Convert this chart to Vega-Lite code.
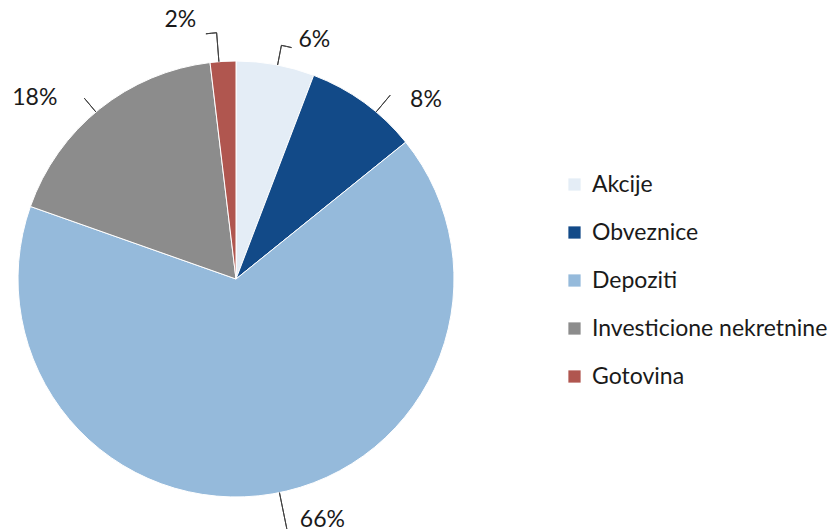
{
  "$schema": "https://vega.github.io/schema/vega-lite/v6.json",
  "width": 472,
  "height": 504,
  "autosize": {"type": "none"},
  "padding": {"left": 0, "top": 27, "right": 361, "bottom": 0},
  "background": "white",
  "data": {
    "values": [
      {"kategorija": "Akcije", "udio": 0.058, "i": 1},
      {"kategorija": "Obveznice", "udio": 0.084, "i": 2},
      {"kategorija": "Depoziti", "udio": 0.662, "i": 3},
      {"kategorija": "Investicione nekretnine", "udio": 0.177, "i": 4},
      {"kategorija": "Gotovina", "udio": 0.019, "i": 5}
    ]
  },
  "transform": [
    {"stack": "udio", "groupby": [], "sort": [{"field": "i", "order": "ascending"}], "as": ["s0", "s1"]}
  ],
  "resolve": {"scale": {"theta": "independent"}},
  "layer": [
    {
      "mark": {"type": "arc", "outerRadius": 218, "stroke": "white", "strokeWidth": 1},
      "encoding": {
        "theta": {"field": "s0", "type": "quantitative", "scale": {"domain": [0, 1]}},
        "theta2": {"field": "s1"},
        "color": {
          "field": "kategorija",
          "type": "nominal",
          "sort": ["Akcije", "Obveznice", "Depoziti", "Investicione nekretnine", "Gotovina"],
          "scale": {
            "domain": ["Akcije", "Obveznice", "Depoziti", "Investicione nekretnine", "Gotovina"],
            "range": ["#E4EDF6", "#124A88", "#95BADB", "#8C8C8C", "#B0564F"]
          },
          "legend": {
            "title": null,
            "orient": "none",
            "legendX": 563,
            "legendY": 146,
            "symbolType": "square",
            "symbolSize": 150,
            "symbolStrokeWidth": 0,
            "labelFont": "Lato",
            "labelFontSize": 23,
            "labelColor": "#1a1a1a",
            "labelOffset": 6,
            "rowPadding": 24,
            "labelLimit": 400
          }
        }
      }
    },
    {
      "transform": [{"filter": "datum.kategorija === 'Akcije'"}],
      "mark": {"type": "arc", "innerRadius": 218, "outerRadius": 238, "fill": null, "stroke": "#404040", "strokeWidth": 1},
      "encoding": {"theta": {"field": "s0", "type": "quantitative", "scale": {"domain": [0, 1], "range": [0.192, 0.1921]}}, "theta2": {"field": "s0"}}
    },
    {
      "transform": [{"filter": "datum.kategorija === 'Akcije'"}],
      "mark": {"type": "arc", "innerRadius": 238, "outerRadius": 238, "fill": null, "stroke": "#404040", "strokeWidth": 1},
      "encoding": {"theta": {"field": "s0", "type": "quantitative", "scale": {"domain": [0, 0.058], "range": [0.192, 0.2356]}}, "theta2": {"field": "s1"}}
    },
    {
      "transform": [{"filter": "datum.kategorija === 'Obveznice'"}],
      "mark": {"type": "arc", "innerRadius": 218, "outerRadius": 240, "fill": null, "stroke": "#404040", "strokeWidth": 1},
      "encoding": {"theta": {"field": "s0", "type": "quantitative", "scale": {"domain": [0, 1], "range": [0.698, 0.6981]}}, "theta2": {"field": "s0"}}
    },
    {
      "transform": [{"filter": "datum.kategorija === 'Depoziti'"}],
      "mark": {"type": "arc", "innerRadius": 218, "outerRadius": 255, "fill": null, "stroke": "#404040", "strokeWidth": 1},
      "encoding": {"theta": {"field": "s0", "type": "quantitative", "scale": {"domain": [0, 1], "range": [2.9409, 2.941]}}, "theta2": {"field": "s0"}}
    },
    {
      "transform": [{"filter": "datum.kategorija === 'Investicione nekretnine'"}],
      "mark": {"type": "arc", "innerRadius": 218, "outerRadius": 236, "fill": null, "stroke": "#404040", "strokeWidth": 1},
      "encoding": {"theta": {"field": "s0", "type": "quantitative", "scale": {"domain": [0, 1], "range": [5.5851, 5.5852]}}, "theta2": {"field": "s0"}}
    },
    {
      "transform": [{"filter": "datum.kategorija === 'Gotovina'"}],
      "mark": {"type": "arc", "innerRadius": 218, "outerRadius": 247, "fill": null, "stroke": "#404040", "strokeWidth": 1},
      "encoding": {"theta": {"field": "s0", "type": "quantitative", "scale": {"domain": [0, 1], "range": [6.2046, 6.2047]}}, "theta2": {"field": "s0"}}
    },
    {
      "transform": [{"filter": "datum.kategorija === 'Gotovina'"}],
      "mark": {"type": "arc", "innerRadius": 247, "outerRadius": 247, "fill": null, "stroke": "#404040", "strokeWidth": 1},
      "encoding": {"theta": {"field": "s0", "type": "quantitative", "scale": {"domain": [0.981, 1], "range": [6.2046, 6.161]}}, "theta2": {"field": "s1"}}
    },
    {
      "mark": {"type": "text", "radius": 245, "dx": 34, "dy": 2, "font": "Lato", "fontSize": 23, "color": "#1a1a1a"},
      "encoding": {
        "theta": {"field": "udio", "type": "quantitative", "stack": true, "scale": {"domain": [0, 1]}},
        "order": {"field": "i", "type": "quantitative"},
        "text": {"condition": {"test": "datum.kategorija === 'Akcije'", "field": "udio", "type": "quantitative", "format": ".0%"}, "value": ""}
      }
    },
    {
      "mark": {"type": "text", "radius": 245, "dx": 46, "dy": 19, "font": "Lato", "fontSize": 23, "color": "#1a1a1a"},
      "encoding": {
        "theta": {"field": "udio", "type": "quantitative", "stack": true, "scale": {"domain": [0, 1]}},
        "order": {"field": "i", "type": "quantitative"},
        "text": {"condition": {"test": "datum.kategorija === 'Obveznice'", "field": "udio", "type": "quantitative", "format": ".0%"}, "value": ""}
      }
    },
    {
      "mark": {"type": "text", "radius": 245, "dx": 45, "dy": 0, "font": "Lato", "fontSize": 23, "color": "#1a1a1a"},
      "encoding": {
        "theta": {"field": "udio", "type": "quantitative", "stack": true, "scale": {"domain": [0, 1]}},
        "order": {"field": "i", "type": "quantitative"},
        "text": {"condition": {"test": "datum.kategorija === 'Depoziti'", "field": "udio", "type": "quantitative", "format": ".0%"}, "value": ""}
      }
    },
    {
      "mark": {"type": "text", "radius": 245, "dx": -48, "dy": 10, "font": "Lato", "fontSize": 23, "color": "#1a1a1a"},
      "encoding": {
        "theta": {"field": "udio", "type": "quantitative", "stack": true, "scale": {"domain": [0, 1]}},
        "order": {"field": "i", "type": "quantitative"},
        "text": {"condition": {"test": "datum.kategorija === 'Investicione nekretnine'", "field": "udio", "type": "quantitative", "format": ".0%"}, "value": ""}
      }
    },
    {
      "mark": {"type": "text", "radius": 245, "dx": -41, "dy": -14, "font": "Lato", "fontSize": 23, "color": "#1a1a1a"},
      "encoding": {
        "theta": {"field": "udio", "type": "quantitative", "stack": true, "scale": {"domain": [0, 1]}},
        "order": {"field": "i", "type": "quantitative"},
        "text": {"condition": {"test": "datum.kategorija === 'Gotovina'", "field": "udio", "type": "quantitative", "format": ".0%"}, "value": ""}
      }
    }
  ]
}
